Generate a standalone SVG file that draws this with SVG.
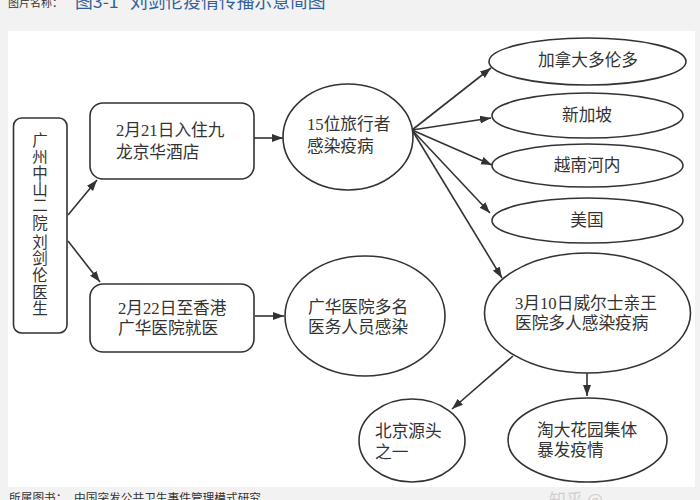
<svg xmlns="http://www.w3.org/2000/svg" width="700" height="500" viewBox="0 0 700 500">
<defs>
<marker id="arrow" markerUnits="userSpaceOnUse" markerWidth="12" markerHeight="10" refX="11" refY="4" orient="auto"><path d="M0 0L11 4L0 8Z" fill="#333"/></marker>
</defs>
<style>
.s{fill:#fff;stroke:#333;stroke-width:1.6}
.t{font-family:"Liberation Serif","Noto Sans CJK SC",serif;font-size:16.7px;fill:#333}
.v{font-size:15.5px}
.c{text-anchor:middle}
.l{stroke:#333;stroke-width:1.6;fill:none;marker-end:url(#arrow)}
.h{font-family:"Noto Sans CJK SC",sans-serif}
.f{font-size:11.700px;fill:#333}
</style>
<rect width="700" height="500" fill="#f2f2f2"/>
<rect x="8" y="31" width="687" height="456" fill="#fff"/>
<g id="header"><text class="h" x="8" y="7" font-size="11" fill="#333">图片名称：</text><text class="h" x="75" y="8" font-size="17.800" fill="#2f6098">图3-1 <tspan x="130">刘剑伦疫情传播示意简图</tspan></text></g>
<g id="footer"><text class="h f" x="9" y="502">所属图书：</text><text class="h f" x="74" y="502">中国突发公共卫生事件管理模式研究</text><text class="h" x="549" y="506" font-size="17" fill="#cfcfcf">知乎 @</text></g>
<g id="connectors">
<path class="l" d="M68 215L97 180"/>
<path class="l" d="M68 241L100 282"/>
<path class="l" d="M254 138L283 138"/>
<path class="l" d="M255 316L284 316"/>
<path class="l" d="M412 130L491 68"/>
<path class="l" d="M412 130L491 118"/>
<path class="l" d="M412 130L492 165"/>
<path class="l" d="M412 130L490 213"/>
<path class="l" d="M412 130L502 278"/>
<path class="l" d="M513 356L452 409"/>
<path class="l" d="M587 373L587 396"/>
</g>
<g id="n1"><rect class="s" x="13.500" y="118" width="53.500" height="215" rx="8"/><text class="t c v"><tspan x="40" y="146">广</tspan><tspan x="40" y="163">州</tspan><tspan x="40" y="179">中</tspan><tspan x="40" y="195">山</tspan><tspan x="40" y="211">二</tspan><tspan x="40" y="229">院</tspan><tspan x="40" y="248">刘</tspan><tspan x="40" y="264">剑</tspan><tspan x="40" y="281">伦</tspan><tspan x="40" y="298">医</tspan><tspan x="40" y="314">生</tspan></text></g>
<g id="n2"><rect class="s" x="90" y="103" width="164" height="76" rx="13"/><text class="t" x="116" y="136">2月21日入住九</text><text class="t" x="116" y="158">龙京华酒店</text></g>
<g id="n3"><rect class="s" x="90" y="284" width="164" height="68" rx="13"/><text class="t" x="118" y="314">2月22日至香港</text><text class="t" x="118" y="334">广华医院就医</text></g>
<g id="n4"><ellipse class="s" cx="348" cy="137" rx="65" ry="53"/><text class="t" x="307" y="130">15位旅行者</text><text class="t" x="307" y="152">感染疫病</text></g>
<g id="n5"><ellipse class="s" cx="365" cy="316" rx="80" ry="60"/><text class="t" x="308" y="313">广华医院多名</text><text class="t" x="308" y="333">医务人员感染</text></g>
<g id="n6"><ellipse class="s" cx="587.500" cy="61.500" rx="98.500" ry="23.500"/><text class="t c" x="588" y="66">加拿大多伦多</text></g>
<g id="n7"><ellipse class="s" cx="587.500" cy="115.500" rx="95.500" ry="22.500"/><text class="t c" x="587" y="121">新加坡</text></g>
<g id="n8"><ellipse class="s" cx="587.500" cy="165.500" rx="95.500" ry="21.500"/><text class="t c" x="587" y="171">越南河内</text></g>
<g id="n9"><ellipse class="s" cx="587.500" cy="220.500" rx="95.500" ry="22.500"/><text class="t c" x="587" y="226">美国</text></g>
<g id="n10"><ellipse class="s" cx="587.500" cy="313" rx="103" ry="60"/><text class="t" x="515" y="309">3月10日威尔士亲王</text><text class="t" x="515" y="329">医院多人感染疫病</text></g>
<g id="n11"><ellipse class="s" cx="412" cy="440.500" rx="53" ry="41.500"/><text class="t" x="375" y="437">北京源头</text><text class="t" x="375" y="458">之一</text></g>
<g id="n12"><ellipse class="s" cx="587.500" cy="440" rx="79.500" ry="42"/><text class="t" x="537" y="436">淘大花园集体</text><text class="t" x="537" y="456">暴发疫情</text></g>
</svg>
